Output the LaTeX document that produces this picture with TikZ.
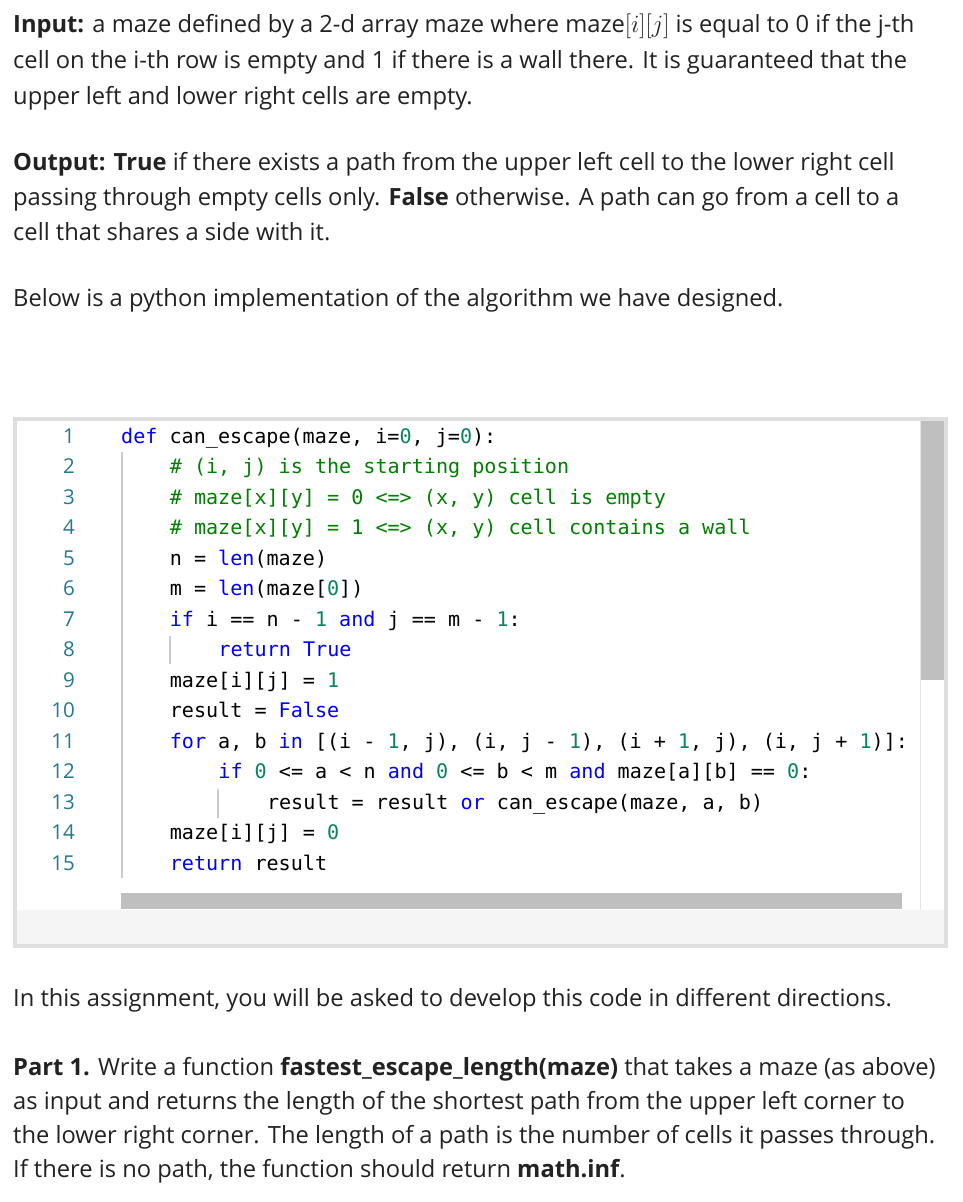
\documentclass[tikz,border=0pt]{standalone}
\usepackage{fontspec}
\setmainfont{Open Sans}
\newfontfamily\codefont{DejaVu Sans Mono}
\definecolor{kw}{HTML}{0000FF}
\definecolor{cm}{HTML}{008000}
\definecolor{nm}{HTML}{098658}
\definecolor{ln}{HTML}{237893}
\definecolor{txt}{HTML}{222222}
\def\us{{\char"5F}}
\begin{document}
\begin{tikzpicture}[x=1pt,y=-1pt,
  para/.style={anchor=base west,inner sep=0pt,font=\fontsize{23.7}{28}\selectfont,text=txt},
  code/.style={anchor=base west,inner sep=0pt,font=\codefont\fontsize{20.1}{24}\selectfont},
  lnum/.style={anchor=base east,inner sep=0pt,font=\fontsize{20.5}{24}\selectfont,text=ln}]
\useasboundingbox[fill=white] (0,0) rectangle (962,1202);
% paragraphs
\node[para] (p1) at (13,32) {\textbf{Input:} a maze defined by a 2-d array $\mathrm{maze}$ where $\mathrm{maze}[i][j]$ is equal to 0 if the j-th};
\node[para] (p2) at (13,68) {cell on the i-th row is empty and 1 if there is a wall there. It is guaranteed that the};
\node[para] (p3) at (13,104) {upper left and lower right cells are empty.};
\node[para] (p4) at (13,170) {\textbf{Output: True} if there exists a path from the upper left cell to the lower right cell};
\node[para] (p5) at (13,205) {passing through empty cells only. \textbf{False} otherwise. A path can go from a cell to a};
\node[para] (p6) at (13,240) {cell that shares a side with it.};
\node[para] (p7) at (13,306) {Below is a python implementation of the algorithm we have designed.};
% code box
\draw[draw=black!13,line width=4pt,fill=black!4] (15,419) rectangle (946,946);
\fill[white] (17,421) rectangle (944,910);
\draw[black!10] (920.5,421) -- (920.5,910);
\fill[black!25] (921,421) rectangle (944,680);
\fill[black!25] (121,893) rectangle (902,909);
\draw[black!20,line width=1.2pt] (122,452) -- (122,878);
\draw[black!20,line width=1.2pt] (170,636) -- (170,664);
\draw[black!20,line width=1.2pt] (218,789) -- (218,818);
\foreach \i in {1,...,15} {\node[lnum] (n\i) at (75,{443+30.5*(\i-1)}) {\i};}
\def\L#1#2#3{\node[code] (c#1) at ({121+48.6*#2},{443+30.5*(#1-1)}) {#3};}
\L{1}{0}{\textcolor{kw}{def} can\us escape(maze, i=\textcolor{nm}{0}, j=\textcolor{nm}{0}):}
\L{2}{1}{\textcolor{cm}{\# (i, j) is the starting position}}
\L{3}{1}{\textcolor{cm}{\# maze[x][y] = 0 <=> (x, y) cell is empty}}
\L{4}{1}{\textcolor{cm}{\# maze[x][y] = 1 <=> (x, y) cell contains a wall}}
\L{5}{1}{n = \textcolor{kw}{len}(maze)}
\L{6}{1}{m = \textcolor{kw}{len}(maze[\textcolor{nm}{0}])}
\L{7}{1}{\textcolor{kw}{if} i == n - \textcolor{nm}{1} \textcolor{kw}{and} j == m - \textcolor{nm}{1}:}
\L{8}{2}{\textcolor{kw}{return} \textcolor{kw}{True}}
\L{9}{1}{maze[i][j] = \textcolor{nm}{1}}
\L{10}{1}{result = \textcolor{kw}{False}}
\L{11}{1}{\textcolor{kw}{for} a, b \textcolor{kw}{in} [(i - \textcolor{nm}{1}, j), (i, j - \textcolor{nm}{1}), (i + \textcolor{nm}{1}, j), (i, j + \textcolor{nm}{1})]:}
\L{12}{2}{\textcolor{kw}{if} \textcolor{nm}{0} <= a < n \textcolor{kw}{and} \textcolor{nm}{0} <= b < m \textcolor{kw}{and} maze[a][b] == \textcolor{nm}{0}:}
\L{13}{3}{result = result \textcolor{kw}{or} can\us escape(maze, a, b)}
\L{14}{1}{maze[i][j] = \textcolor{nm}{0}}
\L{15}{1}{\textcolor{kw}{return} result}
% after
\node[para] (p8) at (13,1006) {In this assignment, you will be asked to develop this code in different directions.};
\node[para] (p9) at (13,1075) {\textbf{Part 1.} Write a function \textbf{fastest\us escape\us length(maze)} that takes a maze (as above)};
\node[para] (p10) at (13,1109) {as input and returns the length of the shortest path from the upper left corner to};
\node[para] (p11) at (13,1143) {the lower right corner. The length of a path is the number of cells it passes through.};
\node[para] (p12) at (13,1177) {If there is no path, the function should return \textbf{math.inf}.};
\end{tikzpicture}
\end{document}
